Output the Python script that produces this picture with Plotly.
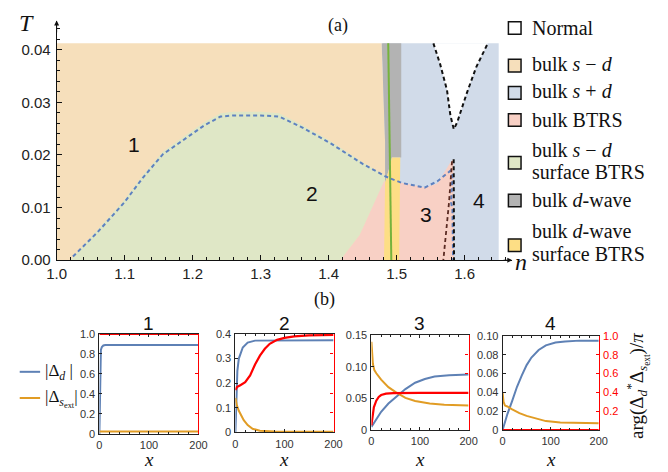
import plotly.graph_objects as go

W, H = 668, 472
def px(x): return x / W
def py(y): return 1 - y / H

TMAX = 0.0412
# ---------------- (a) phase diagram data ----------------
SPD_N = [1.48, 1.65, 1.65, 1.48]
SPD_T = [0, 0, TMAX, TMAX]
SMD_N = [1.0, 1.0, 1.4779, 1.4829, 1.4829]
SMD_T = [0, TMAX, TMAX, 0.0225, 0]
NORMAL_N = [1.554, 1.564, 1.574, 1.579, 1.584, 1.589, 1.603, 1.617, 1.634]
NORMAL_T = [TMAX, 0.0372, 0.0323, 0.0275, 0.0249, 0.0262, 0.0317, 0.0367, TMAX]
GREEN_N = [1.02, 1.06, 1.099, 1.127, 1.156, 1.189, 1.217, 1.241, 1.26, 1.30, 1.327,
           1.36, 1.403, 1.45, 1.4838, 1.4814, 1.4457, 1.4171]
GREEN_T = [0, 0.0058, 0.0114, 0.0162, 0.0206, 0.0237, 0.0262, 0.0279, 0.0282, 0.0282,
           0.0279, 0.0258, 0.0226, 0.0186, 0.0160, 0.0147, 0.0048, 0]
BTRS_N = [1.4171, 1.4457, 1.4814, 1.507, 1.527, 1.541, 1.56, 1.5786, 1.5833, 1.5843]
BTRS_T = [0, 0.0048, 0.0150, 0.0147, 0.0142, 0.0138, 0.0146, 0.0185, 0.0192, 0]
DW_N = [1.4779, 1.5067, 1.5067, 1.4929, 1.490, 1.4829, 1.4829]
DW_T = [TMAX, TMAX, 0.0195, 0.0195, 0.0179, 0.0147, 0.0225]
DWS_N = [1.4814, 1.4829, 1.490, 1.4929, 1.5053, 1.5036]
DWS_T = [0, 0.0147, 0.0179, 0.0195, 0.0195, 0]
GLINE_N = [1.4876, 1.4921]
GLINE_T = [TMAX, 0]
BDASH_N = [1.024, 1.06, 1.099, 1.127, 1.156, 1.189, 1.217, 1.241, 1.26, 1.30, 1.327,
           1.36, 1.403, 1.45, 1.484, 1.507, 1.527, 1.541, 1.56, 1.579, 1.582, 1.580,
           1.582, 1.582, 1.583]
BDASH_T = [0.0007, 0.0053, 0.0109, 0.0157, 0.0201, 0.0231, 0.0256, 0.0273, 0.0275,
           0.0275, 0.0273, 0.0253, 0.0222, 0.0183, 0.0159, 0.0147, 0.0142, 0.0138,
           0.0150, 0.0170, 0.0160, 0.0110, 0.0095, 0.0028, 0]
VDASH_N = NORMAL_N
VDASH_T = NORMAL_T
KDASH_N = [1.5838, 1.5843]
KDASH_T = [0.0192, 0]
RDASH_N = [1.5814, 1.577, 1.5686]
RDASH_T = [0.0188, 0.0110, 0]

C_SMD = "#F6DFBB"
C_SPD = "#D1DBE9"
C_BTRS = "#F8D0C5"
C_GRN = "#DFE7C6"
C_DW = "#B3B3B3"
C_DWS = "#FDDE85"

# ---------------- (b) profiles ----------------
X1 = [0, 1, 2, 3, 5, 8, 12, 20, 50, 100, 200]
D1 = [0, 0.5, 0.75, 0.84, 0.87, 0.885, 0.89, 0.89, 0.89, 0.89, 0.89]
S1X = [0, 200]
S1 = [0.025, 0.025]
R1X = [0, 200]
R1 = [1.0, 1.0]

X2 = [0, 2, 4, 7, 10, 15, 25, 40, 200]
D2 = [0, 0.15, 0.25, 0.30, 0.32, 0.345, 0.365, 0.373, 0.375]
S2X = [0, 1, 3, 7, 12, 17, 25, 35, 50, 80, 200]
S2 = [0.14, 0.13, 0.11, 0.088, 0.07, 0.05, 0.03, 0.015, 0.007, 0.004, 0.003]
R2X = [0, 3, 10, 20, 30, 40, 50, 60, 70, 85, 100, 120, 150, 200]
R2 = [0.43, 0.46, 0.48, 0.51, 0.58, 0.69, 0.78, 0.85, 0.9, 0.94, 0.96, 0.975, 0.985, 0.99]

X3 = [0, 10, 20, 35, 50, 70, 90, 110, 130, 160, 200]
D3 = [0.005, 0.018, 0.029, 0.042, 0.052, 0.065, 0.075, 0.081, 0.085, 0.087, 0.088]
S3X = [0, 1, 3, 6, 10, 20, 35, 50, 70, 90, 120, 150, 200]
S3 = [0.14, 0.13, 0.105, 0.095, 0.09, 0.08, 0.068, 0.06, 0.051, 0.046, 0.042, 0.04, 0.039]
R3X = [0, 2, 5, 10, 15, 20, 30, 45, 60, 100, 200]
R3 = [0.05, 0.15, 0.24, 0.31, 0.35, 0.37, 0.385, 0.39, 0.392, 0.393, 0.393]

X4 = [0, 10, 20, 30, 40, 50, 60, 75, 90, 110, 130, 160, 200]
D4 = [0, 0.017, 0.031, 0.046, 0.058, 0.069, 0.077, 0.085, 0.09, 0.093, 0.094, 0.095, 0.095]
S4X = [0, 2, 5, 10, 20, 35, 50, 70, 90, 120, 160, 200]
S4 = [0.04, 0.03, 0.026, 0.025, 0.022, 0.018, 0.015, 0.012, 0.0095, 0.008, 0.0073, 0.0072]
R4X = [0, 200]
R4 = [0.0, 0.0]

YT1 = [0, 0.2, 0.4, 0.6, 0.8, 1.0]; YL1 = ["0", "0.2", "0.4", "0.6", "0.8", "1.0"]
YT2 = [0, 0.1, 0.2, 0.3, 0.4]; YL2 = ["0", "0.1", "0.2", "0.3", "0.4"]
YT3 = [0, 0.05, 0.10, 0.15]; YL3 = ["0", "0.05", "0.10", "0.15"]
YT4 = [0, 0.02, 0.04, 0.06, 0.08, 0.10]; YL4 = ["0", "0.02", "0.04", "0.06", "0.08", "0.10"]
RT = [0.2, 0.4, 0.6, 0.8, 1.0]; RL = ["0.2", "0.4", "0.6", "0.8", "1.0"]

BLUE = "#5E81B5"
ORANGE = "#E19C24"
RED = "#FF0000"

SANS = "Liberation Sans, Arial"
SERIF = "Liberation Serif, Times New Roman"

fig = go.Figure()

def region(nn, tt, color):
    fig.add_trace(go.Scatter(x=nn, y=tt, fill="toself", fillcolor=color, mode="lines",
                             line=dict(width=0, color=color), hoverinfo="skip",
                             showlegend=False, xaxis="x", yaxis="y"))

region(SPD_N, SPD_T, C_SPD)
region(SMD_N, SMD_T, C_SMD)
region(NORMAL_N, NORMAL_T, "white")
region(GREEN_N, GREEN_T, C_GRN)
region(BTRS_N, BTRS_T, C_BTRS)
region(DW_N, DW_T, C_DW)
region(DWS_N, DWS_T, C_DWS)

def line(nn, tt, color, dash="solid", width=2, xa="x", ya="y"):
    fig.add_trace(go.Scatter(x=nn, y=tt, mode="lines", line=dict(color=color, width=width, dash=dash),
                             hoverinfo="skip", showlegend=False, xaxis=xa, yaxis=ya))

line(GLINE_N, GLINE_T, "#76B33C", width=2)
line(BDASH_N, BDASH_T, "#5E81C0", dash="4px,3px", width=2)
line(VDASH_N, VDASH_T, "#111111", dash="4px,3px", width=2)
line(KDASH_N, KDASH_T, "#111111", dash="4px,3px", width=2)
line(RDASH_N, RDASH_T, "#5A2A22", dash="4px,3px", width=1.8)

# ---------------- subplots ----------------
SUBS = [
    (1, [92, 194], [338, 441], X1, D1, S1X, S1, R1X, R1, [0, 1.0], YT1, YL1),
    (2, [232, 333], [338, 439.5], X2, D2, S2X, S2, R2X, R2, [0, 0.4], YT2, YL2),
    (3, [372, 472], [339.5, 437], X3, D3, S3X, S3, R3X, R3, [0, 0.15], YT3, YL3),
    (4, [507, 606], [340, 437], X4, D4, S4X, S4, R4X, R4, [0, 0.10], YT4, YL4),
]

layout_axes = {}
for (i, xd, yd, xx, dd, sx, ss, rx, rr, yr, yt, yl) in SUBS:
    xa = "x%d" % (i + 1)
    ya = "y%d" % (i + 1)
    yr2 = "y%d" % (i + 5)
    line(xx, dd, BLUE, width=2, xa=xa, ya=ya)
    line(sx, ss, ORANGE, width=2, xa=xa, ya=ya)
    line(rx, rr, RED, width=2.2, xa=xa, ya=yr2)
    layout_axes["xaxis%d" % (i + 1)] = dict(
        domain=[px(xd[0]), px(xd[1])], range=[0, 200], anchor=ya,
        tickvals=[0, 100, 200], ticktext=["0", "100", "200"], ticks="inside", ticklen=3,
        minor=dict(ticks="inside", ticklen=2, dtick=20, tick0=0, tickcolor="#222"),
        showline=True, linecolor="#222", linewidth=1, mirror="ticks", tickcolor="#222",
        showgrid=False, zeroline=False, tickfont=dict(family=SANS, size=11, color="#333"),
        ticklabelstandoff=1)
    layout_axes["yaxis%d" % (i + 1)] = dict(
        domain=[py(yd[1]), py(yd[0])], range=yr, anchor=xa,
        tickvals=yt, ticktext=yl, ticks="inside", ticklen=3, tickcolor="#222",
        showline=True, linecolor="#222", linewidth=1, mirror=False,
        showgrid=False, zeroline=False, tickfont=dict(family=SANS, size=11, color="#333"),
        ticklabelstandoff=1)
    layout_axes["yaxis%d" % (i + 5)] = dict(
        range=[0, 1], overlaying=ya, anchor=xa, side="right",
        tickvals=RT, ticktext=RL, showticklabels=(i == 4), ticks="inside", ticklen=3,
        tickcolor=RED, showline=True, linecolor=RED, linewidth=1.2,
        showgrid=False, zeroline=False, tickfont=dict(family=SANS, size=11, color=RED),
        ticklabelstandoff=1)

shapes = []
annotations = []

def note(text, x, y, size, family, xanchor="center", color="#111", **kw):
    d = dict(text=text, x=px(x), y=py(y), xref="paper", yref="paper", showarrow=False,
             xanchor=xanchor, yanchor="middle", font=dict(family=family, size=size, color=color))
    d.update(kw)
    annotations.append(d)

# legend (a)
LEG = [
    ("white", 22.7, ["Normal"], [22.7]),
    (C_SMD, 61.5, ["bulk <i>s</i> − <i>d</i>"], [60]),
    (C_SPD, 89.5, ["bulk <i>s</i> + <i>d</i>"], [88]),
    (C_BTRS, 117.5, ["bulk BTRS"], [117]),
    (C_GRN, 161.5, ["bulk <i>s</i> − <i>d</i>", "surface BTRS"], [148, 171]),
    (C_DW, 200.5, ["bulk <i>d</i>-wave"], [200]),
    (C_DWS, 246.5, ["bulk <i>d</i>-wave", "surface BTRS"], [232, 256]),
]
for col, yc, texts, ys in LEG:
    shapes.append(dict(type="rect", xref="paper", yref="paper", x0=px(513), x1=px(526),
                       y0=py(yc + 6.5), y1=py(yc - 6.5), fillcolor=col,
                       line=dict(color="#111", width=1.5)))
    for t, yy in zip(texts, ys):
        note(t, 535, yy, 20, SERIF, xanchor="left")

# region labels in (a)
for t, n, T in [("1", 1.114, 0.0219), ("2", 1.3757, 0.0127), ("3", 1.543, 0.0087), ("4", 1.621, 0.0114)]:
    annotations.append(dict(text=t, x=n, y=T, xref="x", yref="y", showarrow=False,
                            xanchor="center", yanchor="middle",
                            font=dict(family=SANS, size=21, color="#111")))

# axis arrows
annotations.append(dict(x=1.67, y=0, ax=1.655, ay=0, xref="x", yref="y", axref="x", ayref="y",
                        showarrow=True, arrowhead=2, arrowsize=1, arrowwidth=1, arrowcolor="#111", text=""))
annotations.append(dict(x=1.0, y=0.04553, ax=1.0, ay=0.043, xref="x", yref="y", axref="x", ayref="y",
                        showarrow=True, arrowhead=2, arrowsize=1, arrowwidth=1, arrowcolor="#111", text=""))

note("<i>T</i>", 17, 18, 24, SERIF)
note("<i>n</i>", 526, 264, 24, SERIF)
note("(a)", 338, 20, 18, SERIF)
note("(b)", 324, 302, 18, SERIF)
note("arg(Δ<sub><i>d</i></sub><sup>*</sup>Δ<sub><i>s</i><sub>ext</sub></sub>)/<i>π</i>",
     646, 392, 19, SERIF, textangle=-90)
note("|Δ<sub><i>d</i></sub> |", 34, 377, 17, SERIF, xanchor="left")
note("|Δ<sub><i>s</i><sub>ext</sub></sub>|", 34, 404, 17, SERIF, xanchor="left")
for (i, xd, yd, *_rest) in SUBS:
    note(str(i), (xd[0] + xd[1]) / 2, 327, 19, SANS)
    note("<i>x</i>", (xd[0] + xd[1]) / 2, 467, 19, SERIF)

shapes.append(dict(type="line", xref="paper", yref="paper", x0=px(10), x1=px(31), y0=py(377), y1=py(377),
                   line=dict(color=BLUE, width=2)))
shapes.append(dict(type="line", xref="paper", yref="paper", x0=px(10), x1=px(31), y0=py(404), y1=py(404),
                   line=dict(color=ORANGE, width=2)))

fig.update_layout(
    width=W, height=H, margin=dict(l=0, r=0, t=0, b=0),
    paper_bgcolor="white", plot_bgcolor="rgba(0,0,0,0)",
    showlegend=False,
    xaxis=dict(domain=[px(48), px(517)], range=[1.0, 1.67], anchor="y",
               tickvals=[1.0, 1.1, 1.2, 1.3, 1.4, 1.5, 1.6],
               ticktext=["1.0", "1.1", "1.2", "1.3", "1.4", "1.5", "1.6"],
               ticks="inside", ticklen=5, tickcolor="#111",
               minor=dict(ticks="inside", ticklen=3, dtick=0.02, tick0=1.0, tickcolor="#111"),
               showline=True, linecolor="#111", linewidth=1, showgrid=False, zeroline=False,
               tickfont=dict(family=SANS, size=15, color="#222")),
    yaxis=dict(domain=[py(262), py(15)], range=[0, 0.04553], anchor="x",
               tickvals=[0, 0.01, 0.02, 0.03, 0.04],
               ticktext=["0.00", "0.01", "0.02", "0.03", "0.04"],
               ticks="inside", ticklen=5, tickcolor="#111",
               minor=dict(ticks="inside", ticklen=3, dtick=0.002, tick0=0, tickcolor="#111"),
               showline=True, linecolor="#111", linewidth=1, showgrid=False, zeroline=False,
               tickfont=dict(family=SANS, size=15, color="#222"), ticklabelstandoff=2),
    shapes=shapes, annotations=annotations,
    **layout_axes,
)

fig.write_html("out.html")
